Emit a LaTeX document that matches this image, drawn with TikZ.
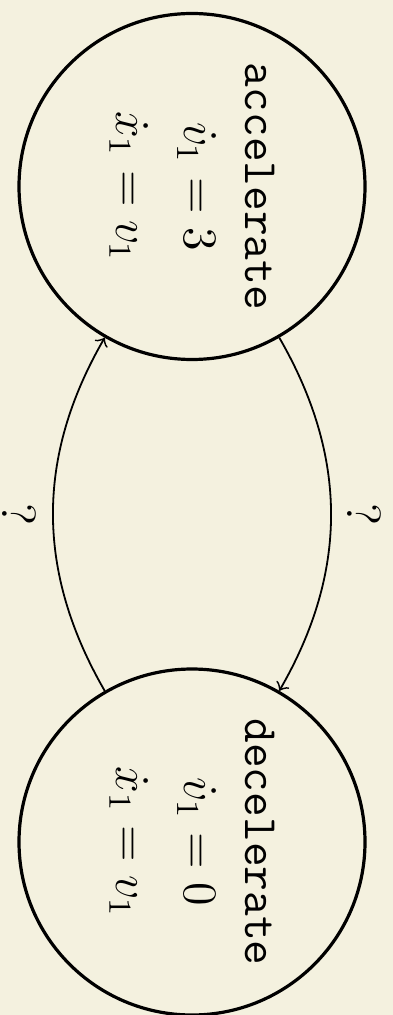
\documentclass[tikz,border=0pt]{standalone}
\usepackage{amsmath}
\definecolor{bg}{RGB}{244,241,223}
\begin{document}
\begin{tikzpicture}[x=0.25pt,y=0.25pt,
  state/.style={draw, circle, line width=0.8pt, minimum size=86.5pt, inner sep=0pt,
    rotate=-90, align=center, font=\fontsize{12}{15.25}\selectfont},
  trans/.style={->, line width=0.45pt},
  qlabel/.style={rotate=-90, inner sep=4pt, font=\large}]
\fill[bg] (0,0) rectangle (393,-1015);
\useasboundingbox (0,0) rectangle (393,-1015);
\node[state] (acc) at (192,-186.5) {\texttt{accelerate}\\ $\dot{v}_1 = 3$\\[1.65pt] $\dot{x}_1 = v_1$};
\node[state] (dec) at (192,-842) {\texttt{decelerate}\\ $\dot{v}_1 = 0$\\[1.65pt] $\dot{x}_1 = v_1$};
\draw[trans] (acc) to[bend left=30] node[midway, qlabel, anchor=south] (q1) {?} (dec);
\draw[trans] (dec) to[bend left=30] node[midway, qlabel, anchor=north] (q2) {?} (acc);
\end{tikzpicture}
\end{document}
